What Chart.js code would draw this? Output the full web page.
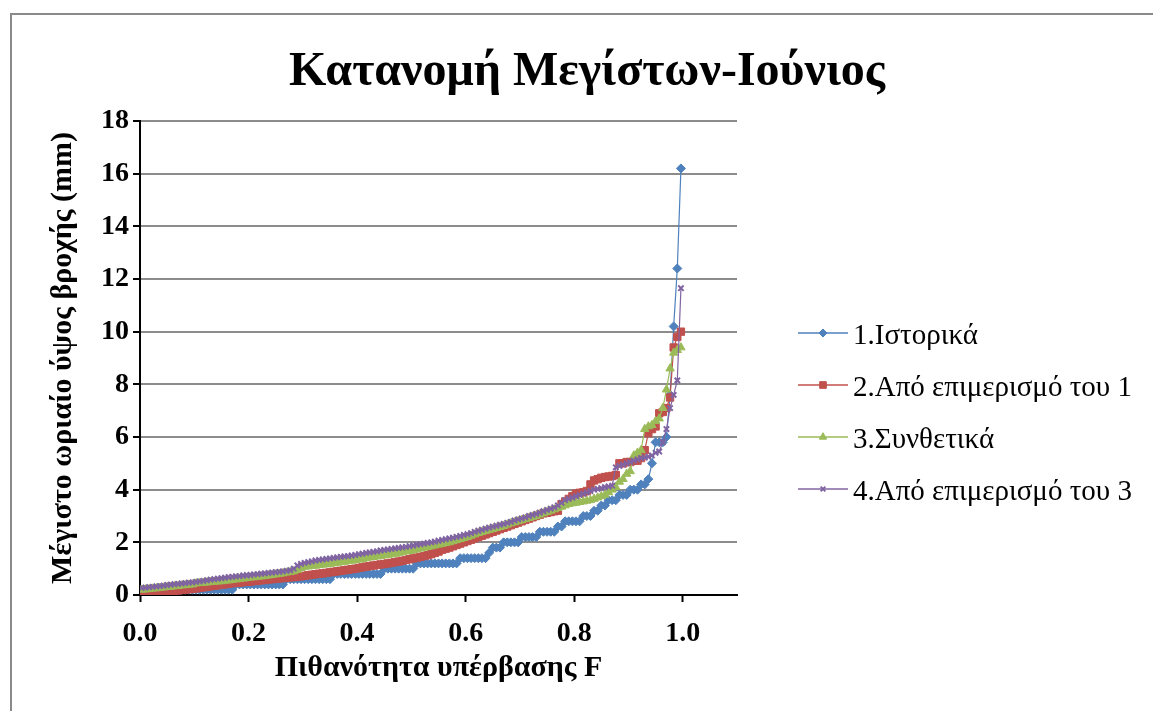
<!DOCTYPE html>
<html>
<head>
<meta charset="utf-8">
<script src="https://cdn.jsdelivr.net/npm/chart.js@4.4.1/dist/chart.umd.min.js"></script>
<style>
  html, body { margin: 0; padding: 0; background: #fff; }
  #wrap { position: relative; width: 1153px; height: 711px; overflow: hidden; }
  #frame { position: absolute; left: 10px; top: 13px; width: 1200px; height: 760px;
           border: 2px solid #8a8a8a; box-sizing: border-box; }
  canvas { position: absolute; left: 0; top: 0; }
</style>
</head>
<body>
<div id="wrap">
  <div id="frame"></div>
  <canvas id="chart" width="1153" height="711"></canvas>
</div>
<script>
// plotting positions (probability F), shared by the four series
const probF = [
  0.0033,0.0100,0.0167,0.0233,0.0300,0.0367,0.0433,0.0500,0.0567,0.0633,0.0700,0.0767,0.0833,0.0900,0.0967,
  0.1033,0.1100,0.1167,0.1233,0.1300,0.1367,0.1433,0.1500,0.1567,0.1633,0.1700,0.1767,0.1833,0.1900,0.1967,
  0.2033,0.2100,0.2167,0.2233,0.2300,0.2367,0.2433,0.2500,0.2567,0.2633,0.2700,0.2767,0.2833,0.2900,0.2967,
  0.3033,0.3100,0.3167,0.3233,0.3300,0.3367,0.3433,0.3500,0.3567,0.3633,0.3700,0.3767,0.3833,0.3900,0.3967,
  0.4033,0.4100,0.4167,0.4233,0.4300,0.4367,0.4433,0.4500,0.4567,0.4633,0.4700,0.4767,0.4833,0.4900,0.4967,
  0.5033,0.5100,0.5167,0.5233,0.5300,0.5367,0.5433,0.5500,0.5567,0.5633,0.5700,0.5767,0.5833,0.5900,0.5967,
  0.6033,0.6100,0.6167,0.6233,0.6300,0.6367,0.6433,0.6500,0.6567,0.6633,0.6700,0.6767,0.6833,0.6900,0.6967,
  0.7033,0.7100,0.7167,0.7233,0.7300,0.7367,0.7433,0.7500,0.7567,0.7633,0.7700,0.7767,0.7833,0.7900,0.7967,
  0.8033,0.8100,0.8167,0.8233,0.8300,0.8367,0.8433,0.8500,0.8567,0.8633,0.8700,0.8767,0.8833,0.8900,0.8967,
  0.9033,0.9100,0.9167,0.9233,0.9300,0.9367,0.9433,0.9500,0.9567,0.9633,0.9700,0.9767,0.9833,0.9900,0.9967
];

// 1. historical (mm)
const histVals = [
  0.2,0.2,0.2,0.2,0.2,0.2,0.2,0.2,0.2,0.2,0.2,0.2,0.2,0.2,0.2,
  0.2,0.2,0.2,0.2,0.2,0.2,0.2,0.2,0.2,0.2,0.2,0.4,0.4,0.4,0.4,
  0.4,0.4,0.4,0.4,0.4,0.4,0.4,0.4,0.4,0.4,0.6,0.6,0.6,0.6,0.6,
  0.6,0.6,0.6,0.6,0.6,0.6,0.6,0.6,0.8,0.8,0.8,0.8,0.8,0.8,0.8,
  0.8,0.8,0.8,0.8,0.8,0.8,0.8,1.0,1.0,1.0,1.0,1.0,1.0,1.0,1.0,
  1.0,1.2,1.2,1.2,1.2,1.2,1.2,1.2,1.2,1.2,1.2,1.2,1.2,1.4,1.4,
  1.4,1.4,1.4,1.4,1.4,1.4,1.6,1.8,1.8,1.8,2.0,2.0,2.0,2.0,2.0,
  2.2,2.2,2.2,2.2,2.2,2.4,2.4,2.4,2.4,2.4,2.6,2.6,2.8,2.8,2.8,
  2.8,2.8,3.0,3.0,3.0,3.2,3.2,3.4,3.4,3.6,3.6,3.6,3.8,3.8,3.8,
  4.0,4.0,4.0,4.2,4.2,4.4,5.0,5.8,5.8,5.8,6.0,7.6,10.2,12.4,16.2
];

// 2. disaggregated from 1 (mm)
const disagg1Vals = [
  0.10,0.10,0.10,0.10,0.10,0.10,0.11,0.13,0.14,0.16,0.17,0.19,0.20,0.22,0.23,
  0.25,0.27,0.29,0.31,0.33,0.35,0.37,0.39,0.41,0.43,0.45,0.46,0.47,0.49,0.50,
  0.51,0.53,0.54,0.56,0.57,0.59,0.60,0.62,0.63,0.64,0.66,0.67,0.68,0.70,0.71,
  0.73,0.75,0.77,0.79,0.81,0.82,0.84,0.86,0.88,0.90,0.92,0.94,0.96,0.98,1.00,
  1.03,1.05,1.08,1.10,1.12,1.14,1.16,1.18,1.20,1.22,1.25,1.27,1.30,1.33,1.36,
  1.39,1.42,1.45,1.48,1.51,1.55,1.60,1.65,1.72,1.76,1.80,1.85,1.90,1.95,2.00,
  2.05,2.10,2.15,2.20,2.25,2.30,2.35,2.40,2.45,2.50,2.55,2.60,2.65,2.70,2.75,
  2.80,2.85,2.90,2.95,3.00,3.05,3.10,3.12,3.15,3.18,3.20,3.45,3.55,3.65,3.75,
  3.85,3.88,3.90,3.95,4.20,4.35,4.40,4.45,4.48,4.50,4.52,4.55,5.00,5.00,5.05,
  5.05,5.10,5.10,5.20,5.50,6.15,6.30,6.40,6.90,6.95,7.10,7.50,9.40,9.80,10.00
];

// 3. synthetic (mm)
const synthVals = [
  0.20,0.21,0.22,0.24,0.25,0.27,0.28,0.30,0.31,0.33,0.34,0.36,0.37,0.39,0.40,
  0.44,0.45,0.46,0.47,0.49,0.50,0.51,0.52,0.54,0.55,0.57,0.59,0.60,0.62,0.64,
  0.66,0.67,0.69,0.70,0.72,0.74,0.76,0.78,0.80,0.82,0.85,0.87,0.90,0.95,1.02,
  1.07,1.08,1.10,1.11,1.13,1.15,1.16,1.18,1.20,1.22,1.24,1.26,1.28,1.30,1.32,
  1.34,1.36,1.40,1.42,1.44,1.46,1.48,1.50,1.52,1.54,1.56,1.60,1.62,1.65,1.67,
  1.70,1.73,1.76,1.79,1.82,1.85,1.88,1.91,1.94,1.97,2.00,2.04,2.08,2.12,2.16,
  2.20,2.25,2.30,2.35,2.39,2.43,2.47,2.50,2.54,2.58,2.62,2.67,2.72,2.76,2.80,
  2.84,2.88,2.92,2.96,3.00,3.05,3.10,3.15,3.20,3.25,3.30,3.35,3.40,3.45,3.48,
  3.50,3.53,3.55,3.58,3.60,3.65,3.70,3.75,3.80,3.90,4.00,4.10,4.30,4.40,4.60,
  4.70,5.30,5.40,5.50,6.30,6.40,6.45,6.60,6.70,7.10,7.80,8.60,9.20,9.30,9.40
];

// 4. disaggregated from 3 (mm)
const disagg3Vals = [
  0.27,0.28,0.30,0.31,0.33,0.34,0.36,0.38,0.39,0.41,0.42,0.44,0.45,0.47,0.48,
  0.50,0.52,0.54,0.56,0.58,0.60,0.62,0.64,0.66,0.68,0.69,0.71,0.72,0.74,0.75,
  0.76,0.78,0.79,0.81,0.82,0.84,0.85,0.87,0.88,0.90,0.92,0.94,1.00,1.12,1.18,
  1.22,1.25,1.28,1.31,1.33,1.35,1.37,1.39,1.41,1.43,1.45,1.47,1.48,1.50,1.52,
  1.55,1.57,1.60,1.62,1.64,1.66,1.69,1.71,1.73,1.75,1.77,1.79,1.81,1.83,1.86,
  1.88,1.91,1.93,1.95,1.98,2.00,2.03,2.06,2.09,2.12,2.15,2.18,2.21,2.24,2.28,
  2.31,2.35,2.40,2.44,2.48,2.52,2.56,2.60,2.63,2.67,2.70,2.74,2.78,2.83,2.87,
  2.91,2.95,3.00,3.04,3.08,3.13,3.18,3.23,3.28,3.33,3.40,3.50,3.60,3.65,3.70,
  3.75,3.80,3.85,3.90,3.95,4.00,4.03,4.06,4.10,4.12,4.15,4.85,4.90,4.95,5.00,
  5.05,5.10,5.15,5.20,5.22,5.25,5.30,5.40,5.45,5.80,6.30,7.10,7.60,8.15,11.65
];

const seriesNames = ["1.Ιστορικά", "2.Από επιμερισμό του 1", "3.Συνθετικά", "4.Από επιμερισμό του 3"];
const yTicks = [0, 2, 4, 6, 8, 10, 12, 14, 16, 18];

const SERIF = '"Liberation Serif", "Times New Roman", serif';
const styles = [
  { color: "#4F81BD", point: "rectRot", radius: 4.5, bw: 1 },
  { color: "#C0504D", point: "rect", radius: 5.2, bw: 1 },
  { color: "#9BBB59", point: "triangle", radius: 4.8, bw: 1 },
  { color: "#8064A2", point: "crossRot", radius: 3.8, bw: 2 },
];
const allVals = [histVals, disagg1Vals, synthVals, disagg3Vals];

const toPoints = (vals) => probF.map((f, i) => ({ x: f, y: vals[i] }));

const datasets = allVals.map((vals, i) => ({
  label: seriesNames[i],
  data: toPoints(vals),
  showLine: true,
  borderColor: styles[i].color,
  backgroundColor: styles[i].color,
  borderWidth: 1.2,
  pointStyle: styles[i].point,
  pointRadius: styles[i].radius,
  pointBorderWidth: styles[i].bw,
  pointBackgroundColor: styles[i].color,
  pointBorderColor: styles[i].color,
  order: 4 - i,
}));

// title + excel-like legend (line with marker in the middle)
const decorPlugin = {
  id: "decor",
  afterDraw(chart) {
    const ctx = chart.ctx;
    ctx.save();
    ctx.fillStyle = "#000";
    ctx.font = "bold 48px " + SERIF;
    ctx.textAlign = "center";
    ctx.textBaseline = "alphabetic";
    ctx.fillText("Κατανομή Μεγίστων-Ιούνιος", 587, 85);

    ctx.font = "29px " + SERIF;
    ctx.textAlign = "left";
    seriesNames.forEach((name, i) => {
      const y = 333 + i * 52;
      const st = styles[i];
      ctx.strokeStyle = st.color;
      ctx.lineWidth = 1.5;
      ctx.beginPath();
      ctx.moveTo(798, y);
      ctx.lineTo(848, y);
      ctx.stroke();
      ctx.fillStyle = st.color;
      ctx.lineWidth = st.bw;
      Chart.helpers.drawPoint(ctx, { pointStyle: st.point, radius: st.radius - 0.5, rotation: 0, borderWidth: st.bw }, 823, y);
      ctx.fillStyle = "#000";
      ctx.fillText(name, 853, y + 11);
    });
    ctx.restore();
  },
};

new Chart(document.getElementById("chart"), {
  type: "scatter",
  data: { datasets },
  plugins: [decorPlugin],
  options: {
    responsive: false,
    animation: false,
    events: [],
    layout: { padding: { left: 0, right: 416, top: 121, bottom: 0 } },
    plugins: { legend: { display: false }, title: { display: false }, tooltip: { enabled: false } },
    scales: {
      x: {
        type: "linear",
        min: 0,
        max: 1.1,
        ticks: {
          stepSize: 0.2,
          includeBounds: false,
          autoSkip: false,
          maxRotation: 0,
          padding: 15,
          color: "#000",
          font: { family: SERIF, size: 28, weight: "bold" },
          callback: (v) => Number(v).toFixed(1),
        },
        grid: { drawOnChartArea: false, tickLength: 7, tickColor: "#000", tickWidth: 2 },
        border: { color: "#000", width: 2 },
        title: {
          display: true,
          text: "Πιθανότητα υπέρβασης F",
          color: "#000",
          font: { family: SERIF, size: 30, weight: "bold" },
          padding: { top: 0, bottom: 25 },
        },
        afterFit: (s) => { s.height = 116; },
      },
      y: {
        min: 0,
        max: 18,
        afterBuildTicks: (s) => { s.ticks = yTicks.map((v) => ({ value: v })); },
        ticks: {
          padding: 4,
          color: "#000",
          font: { family: SERIF, size: 28, weight: "bold" },
        },
        grid: { color: "#8c8c8c", lineWidth: 2, tickLength: 7, tickColor: "#000", tickWidth: 2 },
        border: { color: "#000", width: 2 },
        title: {
          display: true,
          text: "Μέγιστο ωριαίο ύψος βροχής (mm)",
          color: "#000",
          font: { family: SERIF, size: 30, weight: "bold" },
          padding: { top: 45, bottom: 0 },
        },
        afterFit: (s) => { s.width = 140; },
      },
    },
  },
});
</script>
</body>
</html>
